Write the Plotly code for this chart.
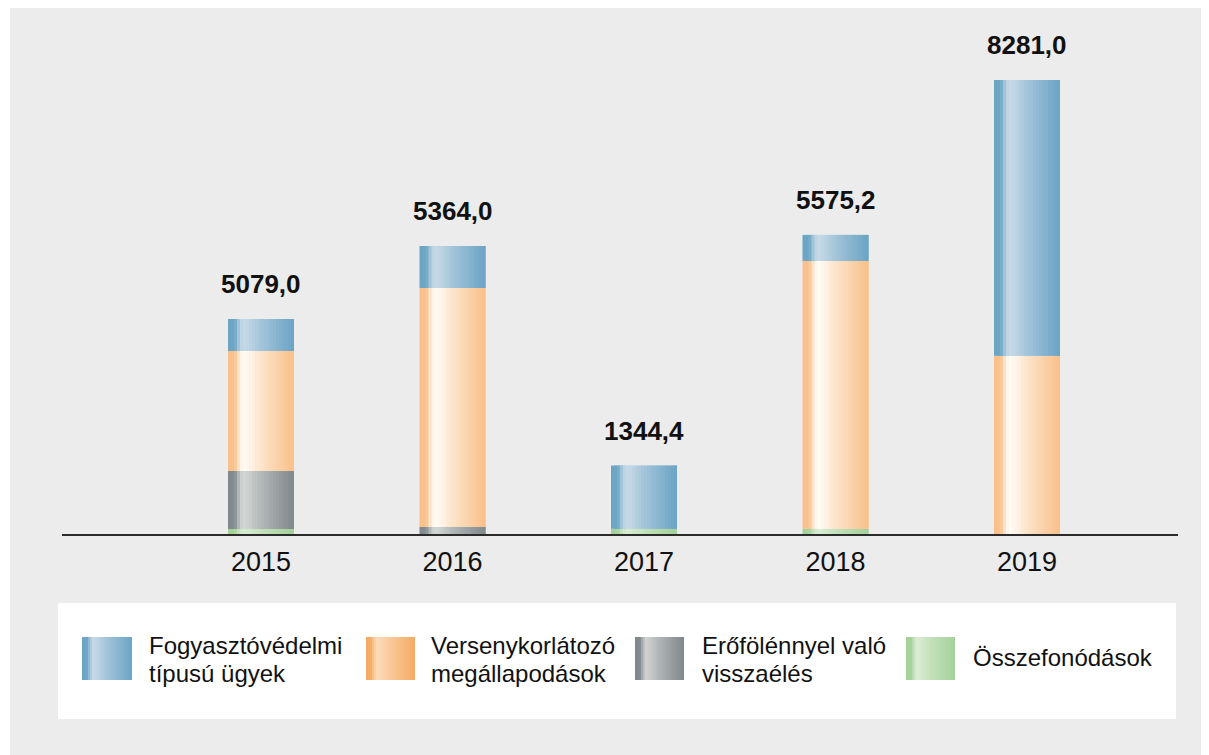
import plotly.graph_objects as go

# ---------------- data ----------------
years = ["2015", "2016", "2017", "2018", "2019"]
osszefonodasok = [91, 0, 95, 95, 0]             # green (bottom)
erofolennyel = [1058, 128, 0, 0, 0]             # grey
versenykorlatozo = [2189, 4360, 0, 4887, 3252]  # orange
fogyasztovedelmi = [584, 766, 1153, 474, 5029]  # blue (top)
total_labels = ["5079,0", "5364,0", "1344,4", "5575,2", "8281,0"]

legend_lines = [
    ["Fogyasztóvédelmi", "típusú ügyek"],
    ["Versenykorlátozó", "megállapodások"],
    ["Erőfölénnyel való", "visszaélés"],
    ["Összefonódások"],
]

# ---------------- style ----------------
OFF = 8                      # page offset of the figure (body margin)
W, H = 1201, 747
ML, MR, MT, MB = 54, 31, 10, 221
PW, PH = W - ML - MR, H - MT - MB
BG = "#ececec"
FONT = "Liberation Sans, Arial, Helvetica, sans-serif"
TXT = "#111111"

# (edge colour, highlight colour) of the cylindrical shading, bars
bar_cols = {
    "green": ("#a3d199", "#d9edd2"),
    "grey": ("#7f888c", "#d4d7d5"),
    "orange": ("#f9bf88", "#fffcf6"),
    "blue": ("#6aa4c4", "#c8dae8"),
}
# legend swatches (slightly different shading in the reference)
sw_cols = {
    "blue": ("#6aa4c4", "#c6d8e7"),
    "orange": ("#f5ab64", "#fcdbb9"),
    "grey": ("#80878b", "#d0d2d1"),
    "green": ("#a3d199", "#daecd3"),
}
profile = [(0.0, 0.0), (0.10, 0.05), (0.16, 0.6), (0.22, 1.0), (0.30, 0.92),
           (0.50, 0.6), (0.75, 0.3), (1.0, 0.0)]


def hex2rgb(h):
    h = h.lstrip("#")
    return [int(h[i:i + 2], 16) for i in (0, 2, 4)]


def mixw(t):
    for (t0, w0), (t1, w1) in zip(profile[:-1], profile[1:]):
        if t0 <= t <= t1:
            return w0 + (w1 - w0) * (t - t0) / (t1 - t0)
    return 0.0


def shade(cols, t):
    a, b = hex2rgb(cols[0]), hex2rgb(cols[1])
    w = mixw(t)
    c = [round(a[i] + (b[i] - a[i]) * w) for i in range(3)]
    return "rgb(%d,%d,%d)" % tuple(c)


# page-pixel -> paper coordinate helpers (layout only)
def px_x(p):
    return (p - OFF - ML) / PW


def px_y(p):
    return (MT + PH - (p - OFF)) / PH


# x axis geometry: category centres 191.5 px apart, first centre at page x=261
STEP = 191.5
FIRST = 261 - OFF
x_lo = (ML - FIRST) / STEP
x_hi = (ML + PW - FIRST) / STEP
BAR_W = 66 / STEP
K = 22  # strips per bar to draw the horizontal shading

# y scale (px per unit = 0.05482)
Y_MAX = PH / 0.05482

stack = [
    ("Összefonódások", osszefonodasok, "green"),
    ("Erőfölénnyel való visszaélés", erofolennyel, "grey"),
    ("Versenykorlátozó megállapodások", versenykorlatozo, "orange"),
    ("Fogyasztóvédelmi típusú ügyek", fogyasztovedelmi, "blue"),
]

fig = go.Figure()
base = [0] * len(years)
for name, vals, key in stack:
    sw = BAR_W / K
    for k in range(K):
        # each strip overlaps the next one slightly so no seams show;
        # the following strip is drawn on top of it
        wk = sw if k == K - 1 else sw * 2
        fig.add_trace(go.Bar(
            x=years, y=vals, base=list(base), name=name,
            width=wk, offset=-BAR_W / 2 + k * sw,
            marker=dict(color=shade(bar_cols[key], (k + 0.5) / K), line=dict(width=0)),
            showlegend=False, hoverinfo="skip",
        ))
    base = [b + v for b, v in zip(base, vals)]

totals = base

annotations = []
for i, (tot, lab) in enumerate(zip(totals, total_labels)):
    annotations.append(dict(
        x=i, y=tot, xref="x", yref="y", text="<b>%s</b>" % lab, showarrow=False,
        yanchor="middle", xanchor="center", yshift=35,
        font=dict(family=FONT, size=26, color=TXT),
    ))

shapes = [
    # grey page background (white strip on the far left as in the reference)
    dict(type="rect", xref="paper", yref="paper", x0=px_x(10), x1=px_x(1215),
         y0=px_y(760), y1=px_y(OFF), fillcolor=BG, line=dict(width=0), layer="below"),
    # white legend box
    dict(type="rect", xref="paper", yref="paper", x0=px_x(58), x1=px_x(1176),
         y0=px_y(719), y1=px_y(603), fillcolor="white", line=dict(width=0), layer="below"),
]

sw_x = [(82, 132), (366, 415), (635, 684), (906, 955)]
txt_x = [147, 429, 700, 971]
sw_keys = ["blue", "orange", "grey", "green"]
SW_TOP, SW_BOT = 637, 680
NS = 25
for (x0, x1), key, tx, lines in zip(sw_x, sw_keys, txt_x, legend_lines):
    wpx = (x1 - x0) / NS
    for k in range(NS):
        a = x0 + k * wpx
        b = min(x1, a + wpx + 1.5)
        shapes.append(dict(type="rect", xref="paper", yref="paper",
                           x0=px_x(a), x1=px_x(b), y0=px_y(SW_BOT), y1=px_y(SW_TOP),
                           fillcolor=shade(sw_cols[key], (k + 0.5) / NS),
                           line=dict(width=0)))
    ys = [645.5, 673.5] if len(lines) == 2 else [657]
    for line, yy in zip(lines, ys):
        annotations.append(dict(
            x=px_x(tx), y=px_y(yy), xref="paper", yref="paper", text=line,
            showarrow=False, xanchor="left", yanchor="middle",
            font=dict(family=FONT, size=24, color=TXT),
        ))

fig.update_layout(
    width=W, height=H,
    margin=dict(l=ML, r=MR, t=MT, b=MB, pad=0),
    paper_bgcolor="white", plot_bgcolor=BG,
    barmode="overlay", showlegend=False, hovermode=False,
    font=dict(family=FONT, color=TXT),
    xaxis=dict(type="category", range=[x_lo, x_hi], showline=True, linecolor="#2b2b2b",
               linewidth=2, ticks="", showgrid=False, zeroline=False,
               ticklabelstandoff=3,
               tickfont=dict(family=FONT, size=27, color=TXT), fixedrange=True),
    yaxis=dict(range=[0, Y_MAX], visible=False, fixedrange=True),
    shapes=shapes, annotations=annotations,
)

fig.write_html("out.html", config={"displayModeBar": False})
